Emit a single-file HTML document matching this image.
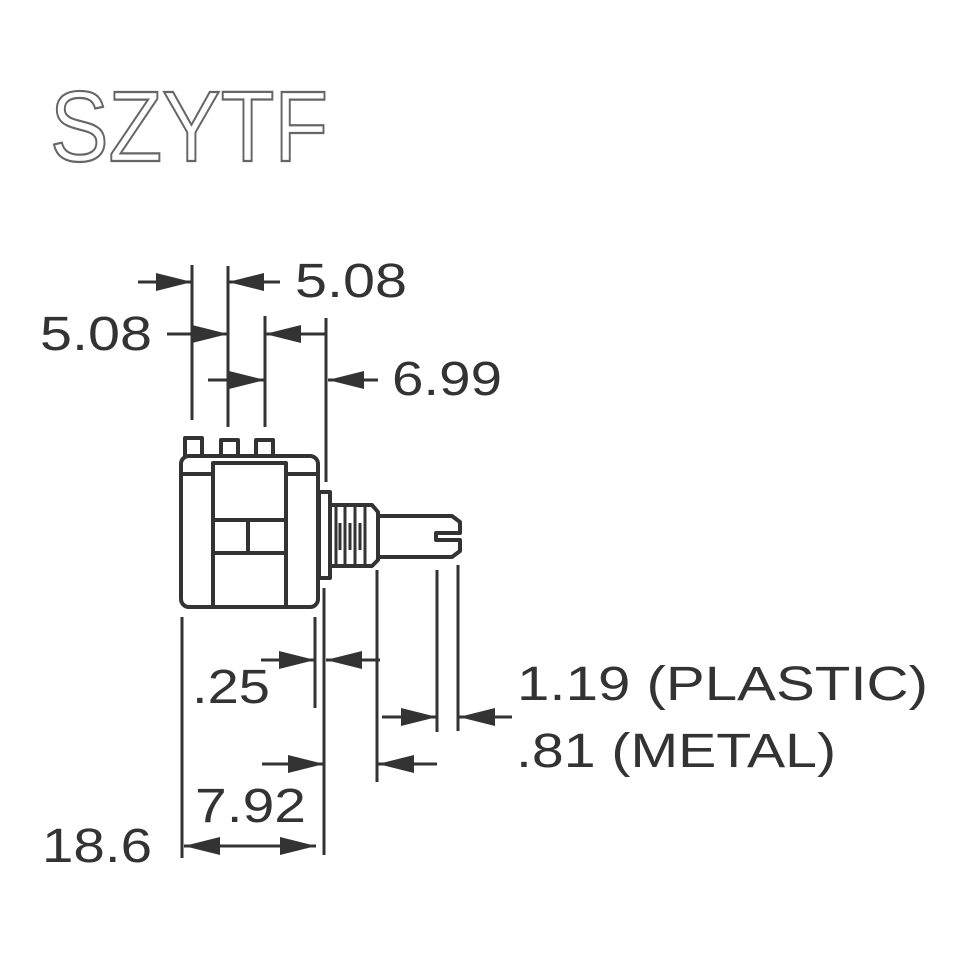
<!DOCTYPE html>
<html><head><meta charset="utf-8"><style>html,body{margin:0;padding:0;background:#fff}svg{display:block}</style></head>
<body>
<svg width="960" height="960" viewBox="0 0 960 960" xmlns="http://www.w3.org/2000/svg">
<defs>
<marker id="a" viewBox="0 0 36 20" refX="36" refY="10" markerWidth="36" markerHeight="20" markerUnits="userSpaceOnUse" orient="auto"><path d="M0,1 L36,10 L0,19 Z" fill="#333"/></marker>
</defs>
<text x="50" y="161" font-family="Liberation Sans, sans-serif" font-size="100" fill="#fff" stroke="#666" stroke-width="2.2" textLength="278" lengthAdjust="spacingAndGlyphs">SZYTF</text>
<g stroke="#333" stroke-width="3" fill="none">
<line x1="192" y1="265" x2="192" y2="420"/>
<line x1="228" y1="266" x2="228" y2="427"/>
<line x1="265" y1="316" x2="265" y2="427"/>
<line x1="326" y1="318" x2="326" y2="482"/>
<line x1="138" y1="282" x2="192" y2="282" marker-end="url(#a)"/>
<line x1="280" y1="282" x2="228" y2="282" marker-end="url(#a)"/>
<line x1="167" y1="334" x2="228" y2="334" marker-end="url(#a)"/>
<line x1="326" y1="334" x2="265" y2="334" marker-end="url(#a)"/>
<line x1="208" y1="380" x2="265" y2="380" marker-end="url(#a)"/>
<line x1="378" y1="380" x2="328" y2="380" marker-end="url(#a)"/>
<line x1="182" y1="617" x2="182" y2="858"/>
<line x1="315" y1="617" x2="315" y2="708"/>
<line x1="324" y1="588" x2="324" y2="855"/>
<line x1="377" y1="570" x2="377" y2="782"/>
<line x1="437" y1="570" x2="437" y2="732"/>
<line x1="458" y1="565" x2="458" y2="731"/>
<line x1="261" y1="660" x2="315" y2="660" marker-end="url(#a)"/>
<line x1="380" y1="660" x2="326" y2="660" marker-end="url(#a)"/>
<line x1="382" y1="717" x2="437" y2="717" marker-end="url(#a)"/>
<line x1="512" y1="717" x2="459" y2="717" marker-end="url(#a)"/>
<line x1="262" y1="764" x2="324" y2="764" marker-end="url(#a)"/>
<line x1="437" y1="764" x2="378" y2="764" marker-end="url(#a)"/>
<line x1="250" y1="846" x2="184" y2="846" marker-end="url(#a)"/>
<line x1="250" y1="846" x2="316" y2="846" marker-end="url(#a)"/>
</g>
<g stroke="#333" stroke-width="4" fill="#fff" stroke-linejoin="round">
<rect x="185" y="438" width="17" height="20"/>
<rect x="221" y="440" width="17" height="24"/>
<rect x="256" y="440" width="17" height="24"/>
<rect x="181" y="456" width="137" height="151" rx="8"/>
<rect x="213" y="463" width="73" height="144"/>
<line x1="181" y1="474" x2="213" y2="474"/>
<line x1="286" y1="474" x2="318" y2="474"/>
<line x1="213" y1="520" x2="286" y2="520"/>
<line x1="213" y1="553" x2="286" y2="553"/>
<line x1="248" y1="520" x2="248" y2="553"/>
<rect x="319" y="492" width="11" height="86"/>
<path d="M330,505 L372,505 L378,512 L378,560 L372,566 L330,566 Z"/>
<path d="M378,516 L452,516 L460,522 L460,533 L436,533 L436,540 L460,540 L460,551 L452,557 L378,557 Z"/>
</g>
<g stroke="#333" stroke-width="3">
<line x1="336" y1="507" x2="336" y2="564"/>
<line x1="345" y1="507" x2="345" y2="564"/>
<line x1="355" y1="507" x2="355" y2="564"/>
<line x1="365" y1="507" x2="365" y2="564"/>
<line x1="340" y1="523" x2="340" y2="550"/>
<line x1="350" y1="523" x2="350" y2="550"/>
<line x1="360" y1="523" x2="360" y2="550"/>
</g>
<g font-family="Liberation Sans, sans-serif" font-size="48" fill="#333" lengthAdjust="spacingAndGlyphs">
<text x="295" y="297" textLength="112" lengthAdjust="spacingAndGlyphs">5.08</text>
<text x="40" y="350" textLength="112" lengthAdjust="spacingAndGlyphs">5.08</text>
<text x="392" y="395" textLength="110" lengthAdjust="spacingAndGlyphs">6.99</text>
<text x="192" y="703" textLength="78" lengthAdjust="spacingAndGlyphs">.25</text>
<text x="517" y="700" textLength="411" lengthAdjust="spacingAndGlyphs">1.19 (PLASTIC)</text>
<text x="516" y="767" textLength="320" lengthAdjust="spacingAndGlyphs">.81 (METAL)</text>
<text x="195" y="822" textLength="111" lengthAdjust="spacingAndGlyphs">7.92</text>
<text x="42" y="862" textLength="110" lengthAdjust="spacingAndGlyphs">18.6</text>
</g>
</svg>
</body></html>
